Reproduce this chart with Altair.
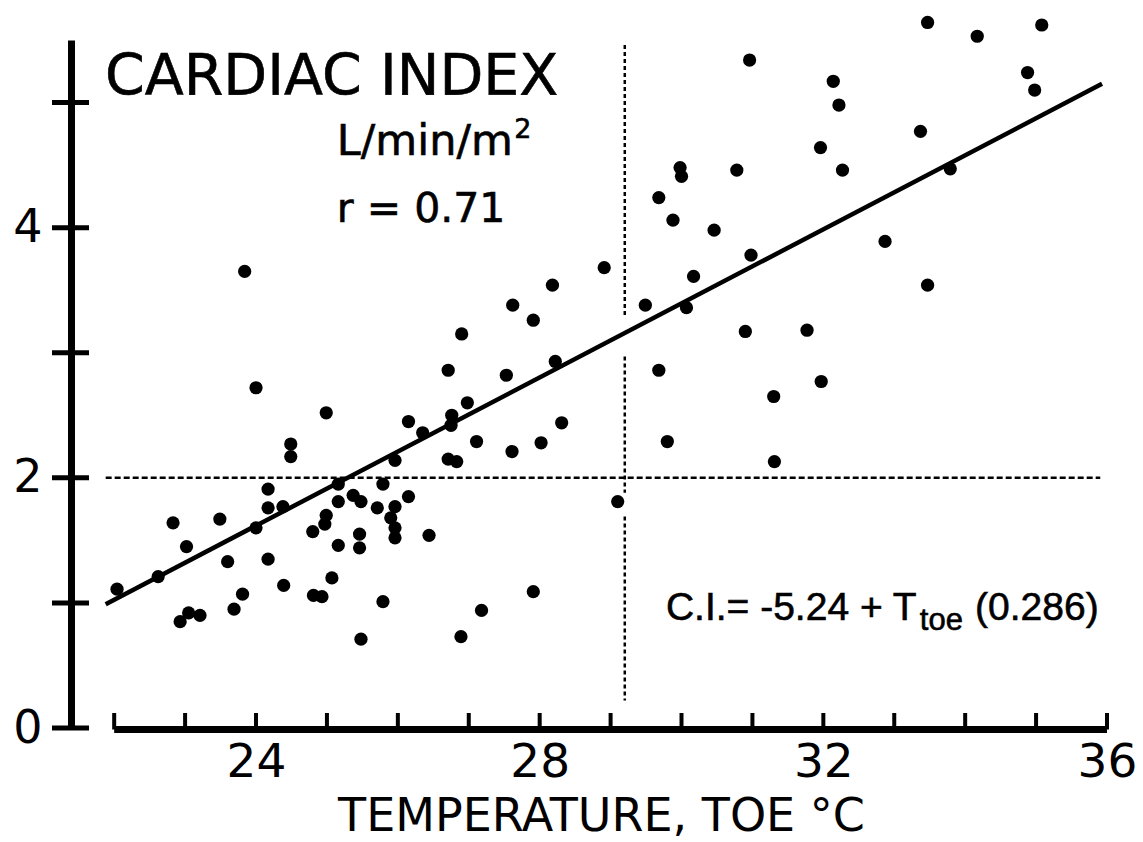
import altair as alt
import pandas as pd

# ---- data ----
temp = [22.04, 22.62, 22.83, 23.02, 22.93, 23.05, 23.21, 23.49, 23.60, 23.69,
        23.81, 23.84, 24.00, 24.00, 24.17, 24.17, 24.17, 24.38, 24.39, 24.49,
        24.49, 24.80, 24.81, 24.93, 24.97, 24.99, 24.99, 25.07, 25.16, 25.16,
        25.16, 25.37, 25.48, 25.46, 25.46, 25.48, 25.71, 25.79, 25.96, 25.96,
        25.90, 25.96, 25.96, 25.79, 26.15, 26.15, 26.35, 26.44, 26.71, 26.71,
        26.83, 26.76, 26.75, 26.90, 26.98, 26.89, 27.11, 27.18, 27.53, 27.61,
        27.62, 27.91, 27.91, 28.02, 28.18, 28.22, 28.31, 28.91, 29.10, 29.49,
        29.68, 29.68, 29.80, 29.88, 29.98, 30.00, 30.07, 30.17, 30.46, 30.78,
        30.90, 30.96, 30.98, 31.30, 31.31, 31.77, 31.96, 31.97, 32.14, 32.22,
        32.27, 32.87, 33.37, 33.47, 33.47, 33.79, 34.17, 34.88, 34.98, 35.08]
cardiac_index = [1.11, 1.21, 1.64, 1.45, 0.85, 0.92, 0.90, 1.67, 1.33, 0.95,
                 1.07, 3.65, 2.72, 1.60, 1.91, 1.76, 1.35, 1.77, 1.14, 2.27,
                 2.17, 1.57, 1.06, 1.05, 1.63, 1.70, 2.52, 1.20, 1.95, 1.81,
                 1.46, 1.86, 1.81, 1.55, 1.44, 0.71, 1.76, 1.95, 2.14, 1.77,
                 1.68, 1.60, 1.52, 1.01, 1.85, 2.45, 2.36, 1.54, 2.86, 2.15,
                 2.13, 2.50, 2.42, 3.15, 2.60, 0.73, 2.29, 0.94, 2.82, 2.21,
                 3.38, 3.26, 1.09, 2.28, 3.54, 2.93, 2.44, 3.68, 1.81, 3.38,
                 4.24, 2.86, 2.29, 4.06, 4.48, 4.41, 3.36, 3.61, 3.98, 4.46,
                 3.17, 5.34, 3.78, 2.65, 2.13, 3.18, 4.64, 2.77, 5.17, 4.98,
                 4.46, 3.89, 4.77, 5.64, 3.54, 4.47, 5.53, 5.24, 5.10, 5.62]

# regression line end points (as drawn)
fit_t = [21.88, 35.93]
fit_ci = [0.99, 5.15]

# reference (dotted) lines
h_ref_ci = 2.0
h_ref_t = [21.88, 35.905]
v_ref_t = 29.20
v_ref_segments = [(5.46, 3.30), (2.97, 1.88), (1.69, 0.22)]

# axes
x_tick_values = list(range(22, 37))
x_label_values = [24, 28, 32, 36]
y_tick_values = [0, 1, 2, 3, 4, 5]
y_label_values = [0, 2, 4]
y_tick_span = [21.123, 21.645]
x_axis_span = [22.0, 36.0]
x_axis_ci = -0.012
x_tick_top = 0.12

# annotations
title_text = "CARDIAC INDEX"
unit_text = "L/min/m"
unit_sup = "2"
r_text = "r = 0.71"
eq_main = "C.I.= -5.24 + T"
eq_sub = "toe"
eq_tail = "(0.286)"
x_title = "TEMPERATURE, TOE °C"

# ---- scales & encodings ----
xs = alt.Scale(domain=[21.391, 36.0], nice=False, zero=False)
ys = alt.Scale(domain=[0, 5.5], nice=False, zero=False)

x_axis = alt.Axis(values=x_label_values, domain=False, ticks=False, grid=False,
                  labelFontSize=47, labelFont="DejaVu Sans", labelColor="black",
                  labelPadding=11, labelFlush=False, labelOverlap=False,
                  title=x_title, titleFont="DejaVu Sans", titleFontSize=46,
                  titleFontWeight="normal", titleColor="black",
                  titleX=530, titleY=102, titleAlign="center",
                  titleBaseline="alphabetic")
y_axis = alt.Axis(values=y_label_values, ticks=False, grid=False,
                  domain=True, domainColor="black", domainWidth=7,
                  labelFontSize=46, labelFont="DejaVu Sans", labelColor="black",
                  labelPadding=29, labelFlush=False, labelOverlap=False,
                  title="")


def X(field="t"):
    return alt.X(field, type="quantitative", scale=xs, axis=x_axis)


def Y(field="c"):
    return alt.Y(field, type="quantitative", scale=ys, axis=y_axis)


# ---- layers ----
pts = pd.DataFrame({"t": temp, "c": cardiac_index})
points = alt.Chart(pts).mark_circle(size=175, color="black", opacity=1).encode(
    x=X(), y=Y())

fit = alt.Chart(pd.DataFrame({"t": fit_t, "c": fit_ci})).mark_line(
    color="black", strokeWidth=4.5).encode(x=X(), y=Y())

h_ref = alt.Chart(pd.DataFrame({"t": [h_ref_t[0]], "t2": [h_ref_t[1]],
                                "c": [h_ref_ci]})).mark_rule(
    color="black", strokeWidth=2.5, strokeDash=[6, 3]).encode(
    x=X(), x2="t2", y=Y())

v_ref = alt.Chart(pd.DataFrame({"t": [v_ref_t] * len(v_ref_segments),
                                "c": [s[0] for s in v_ref_segments],
                                "c2": [s[1] for s in v_ref_segments]})).mark_rule(
    color="black", strokeWidth=2.5, strokeDash=[4, 3]).encode(
    x=X(), y=Y(), y2="c2")

y_ticks = alt.Chart(pd.DataFrame({"t": [y_tick_span[0]] * len(y_tick_values),
                                  "t2": [y_tick_span[1]] * len(y_tick_values),
                                  "c": y_tick_values})).mark_rule(
    color="black", strokeWidth=5).encode(x=X(), x2="t2", y=Y())

x_line = alt.Chart(pd.DataFrame({"t": [x_axis_span[0]], "t2": [x_axis_span[1]],
                                 "c": [x_axis_ci]})).mark_rule(
    color="black", strokeWidth=7).encode(x=X(), x2="t2", y=Y())

x_ticks = alt.Chart(pd.DataFrame({"t": x_tick_values,
                                  "c": [x_axis_ci] * len(x_tick_values),
                                  "c2": [x_tick_top] * len(x_tick_values)})).mark_rule(
    color="black", strokeWidth=4).encode(x=X(), y=Y(), y2="c2")


def label(txt, t, c, size, font="DejaVu Sans"):
    df = pd.DataFrame({"t": [t], "c": [c], "s": [txt]})
    return alt.Chart(df).mark_text(align="left", baseline="alphabetic",
                                   fontSize=size, font=font, color="black",
                                   stroke="black", strokeWidth=0.6).encode(
        x=X(), y=Y(), text="s:N")


texts = [
    label(title_text, 21.87, 5.064, 57),
    label(unit_text, 25.14, 4.584, 43),
    label(unit_sup, 27.64, 4.72, 27),
    label(r_text, 25.14, 4.048, 41),
    label(eq_main, 29.78, 0.864, 39, "Liberation Sans"),
    label(eq_sub, 33.36, 0.784, 31, "Liberation Sans"),
    label(eq_tail, 34.14, 0.864, 39, "Liberation Sans"),
]

chart = alt.layer(h_ref, v_ref, fit, y_ticks, x_line, x_ticks, points, *texts).properties(
    width=1036, height=688,
    padding={"left": 71, "top": 40, "right": 36, "bottom": 114},
    autosize=alt.AutoSizeParams(type="none"),
    background="white",
).configure_view(strokeWidth=0)

chart.save("out.html", embed_options={"renderer": "svg", "actions": False})
